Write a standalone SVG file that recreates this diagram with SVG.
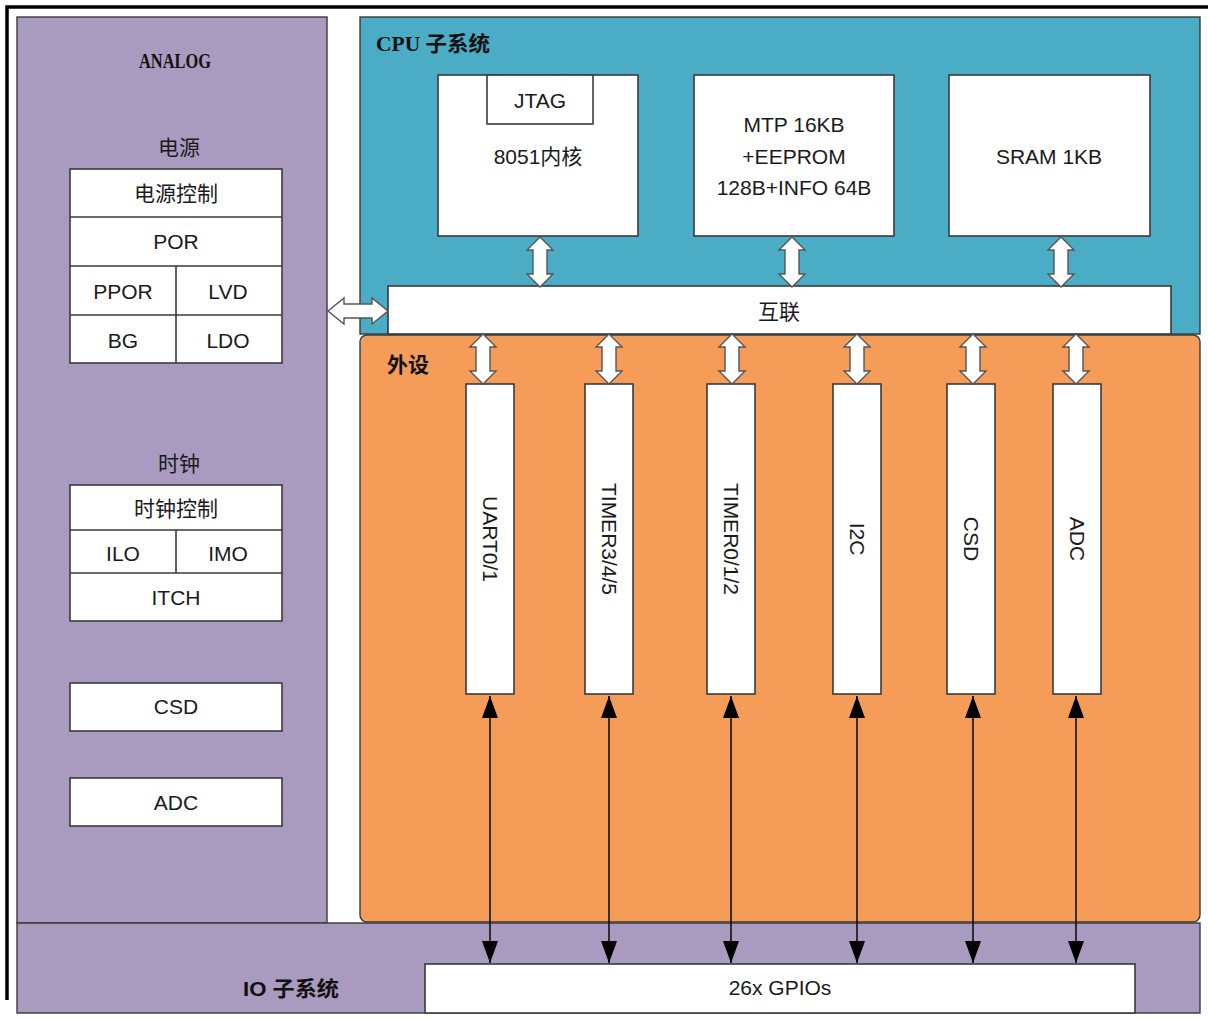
<svg xmlns="http://www.w3.org/2000/svg" width="1208" height="1019" viewBox="0 0 1208 1019">
<style>
.t{font-family:"Liberation Sans","Noto Sans CJK SC",sans-serif;font-size:21px;fill:#1a1a1a;text-anchor:middle;dominant-baseline:central}
.ttl{font-family:"Liberation Serif","Noto Sans CJK SC",serif;font-weight:bold;font-size:21px;fill:#111;dominant-baseline:central}
.ttls{font-family:"Liberation Sans","Noto Sans CJK SC",sans-serif;font-weight:bold;font-size:21px;fill:#111;dominant-baseline:central}
.box{fill:#fff;stroke:#3a3a3a;stroke-width:1.6}
.pur{fill:#A99BBF;stroke:#3a3a3a;stroke-width:1.4}
.teal{fill:#4BACC6;stroke:#3a3a3a;stroke-width:1.4}
.org{fill:#F59D58;stroke:#3a3a3a;stroke-width:1.4}
.ln{stroke:#3a3a3a;stroke-width:1.6;fill:none}
.barrow{fill:#fff;stroke:#555;stroke-width:1.4;stroke-linejoin:miter}
.wire{stroke:#111;stroke-width:1.6;fill:none;marker-start:url(#ah);marker-end:url(#ah)}
</style>
<defs>
<marker id="ah" markerUnits="userSpaceOnUse" markerWidth="24" markerHeight="20" viewBox="-23 -9 24 18" refX="0" refY="0" orient="auto-start-reverse">
<path d="M0,0 L-22,-8 L-22,8 Z" fill="#000"/>
</marker>
<path id="va" d="M0,0 L13,13 L7,13 L7,37 L13,37 L0,50 L-13,37 L-7,37 L-7,13 L-13,13 Z"/>
</defs>
<rect width="1208" height="1019" fill="#fff"/>
<path d="M7,1000 L7,7 L1208,7" stroke="#000" stroke-width="3.5" fill="none"/>

<g id="analog">
<rect class="pur" x="17" y="17" width="310" height="906"/>
<text class="ttl" x="175" y="61" text-anchor="middle" font-size="23" textLength="72" lengthAdjust="spacingAndGlyphs">ANALOG</text>
</g>
<g id="io-subsystem">
<rect class="pur" x="17" y="923" width="1183" height="90"/>
<text class="ttls" x="243" y="988" textLength="96" lengthAdjust="spacingAndGlyphs">IO 子系统</text>
</g>
<g id="cpu-subsystem">
<rect class="teal" x="360" y="17" width="840" height="317"/>
<text class="ttl" x="376" y="44" textLength="114" lengthAdjust="spacingAndGlyphs">CPU 子系统</text>
</g>
<g id="peripherals">
<rect class="org" x="360" y="335" width="840" height="587" rx="7"/>
<text class="ttls" x="387" y="364">外设</text>
</g>

<g id="power">
<text class="t" x="179" y="147">电源</text>
<rect class="box" x="70" y="169" width="212" height="194"/>
<path class="ln" d="M70,217 H282 M70,266 H282 M70,315 H282 M176,266 V363"/>
<text class="t" x="176" y="193">电源控制</text>
<text class="t" x="176" y="241">POR</text>
<text class="t" x="123" y="291">PPOR</text>
<text class="t" x="228" y="291">LVD</text>
<text class="t" x="123" y="340">BG</text>
<text class="t" x="228" y="340">LDO</text>
</g>
<g id="clock">
<text class="t" x="179" y="463">时钟</text>
<rect class="box" x="70" y="485" width="212" height="136"/>
<path class="ln" d="M70,530 H283 M70,573 H283 M176,530 V573"/>
<text class="t" x="176" y="508">时钟控制</text>
<text class="t" x="123" y="553">ILO</text>
<text class="t" x="228" y="553">IMO</text>
<text class="t" x="176" y="597">ITCH</text>
</g>
<g id="analog-csd">
<rect class="box" x="70" y="683" width="212" height="48"/>
<text class="t" x="176" y="706">CSD</text>
</g>
<g id="analog-adc">
<rect class="box" x="70" y="778" width="212" height="48"/>
<text class="t" x="176" y="802">ADC</text>
</g>

<g id="core8051">
<rect class="box" x="438" y="75" width="200" height="161"/>
<rect class="box" x="487" y="75" width="106" height="49"/>
<text class="t" x="540" y="100">JTAG</text>
<text class="t" x="538" y="156">8051内核</text>
</g>
<g id="mtp">
<rect class="box" x="694" y="75" width="200" height="161"/>
<text class="t" x="794" y="124">MTP 16KB</text>
<text class="t" x="794" y="156">+EEPROM</text>
<text class="t" x="794" y="187">128B+INFO 64B</text>
</g>
<g id="sram">
<rect class="box" x="949" y="75" width="201" height="161"/>
<text class="t" x="1049" y="156">SRAM 1KB</text>
</g>
<g id="interconnect">
<rect class="box" x="388" y="286" width="783" height="48"/>
<text class="t" x="779" y="311">互联</text>
</g>

<g id="uart">
<rect class="box" x="466" y="384" width="48" height="310"/>
<text class="t" x="490" y="539" transform="rotate(90 490 539)">UART0/1</text>
</g>
<g id="timer345">
<rect class="box" x="585" y="384" width="48" height="310"/>
<text class="t" x="609" y="539" transform="rotate(90 609 539)">TIMER3/4/5</text>
</g>
<g id="timer012">
<rect class="box" x="707" y="384" width="48" height="310"/>
<text class="t" x="731" y="539" transform="rotate(90 731 539)">TIMER0/1/2</text>
</g>
<g id="i2c">
<rect class="box" x="833" y="384" width="48" height="310"/>
<text class="t" x="857" y="539" transform="rotate(90 857 539)">I2C</text>
</g>
<g id="csd">
<rect class="box" x="947" y="384" width="48" height="310"/>
<text class="t" x="971" y="539" transform="rotate(90 971 539)">CSD</text>
</g>
<g id="adc">
<rect class="box" x="1053" y="384" width="48" height="310"/>
<text class="t" x="1077" y="539" transform="rotate(90 1077 539)">ADC</text>
</g>
<g id="gpios">
<rect class="box" x="425" y="964" width="710" height="49"/>
<text class="t" x="780" y="987">26x GPIOs</text>
</g>

<g id="connectors">
<use href="#va" class="barrow" transform="translate(540,237)"/>
<use href="#va" class="barrow" transform="translate(792,237)"/>
<use href="#va" class="barrow" transform="translate(1061,237)"/>
<use href="#va" class="barrow" transform="translate(483,334)"/>
<use href="#va" class="barrow" transform="translate(609,334)"/>
<use href="#va" class="barrow" transform="translate(732,334)"/>
<use href="#va" class="barrow" transform="translate(857,334)"/>
<use href="#va" class="barrow" transform="translate(973,334)"/>
<use href="#va" class="barrow" transform="translate(1076,334)"/>
<path class="barrow" d="M328,311 L344,298 L344,304 L372,304 L372,298 L388,311 L372,324 L372,318 L344,318 L344,324 Z"/>
<line class="wire" x1="490" y1="696" x2="490" y2="963"/>
<line class="wire" x1="609" y1="696" x2="609" y2="963"/>
<line class="wire" x1="731" y1="696" x2="731" y2="963"/>
<line class="wire" x1="857" y1="696" x2="857" y2="963"/>
<line class="wire" x1="973" y1="696" x2="973" y2="963"/>
<line class="wire" x1="1076" y1="696" x2="1076" y2="963"/>
</g>
</svg>
